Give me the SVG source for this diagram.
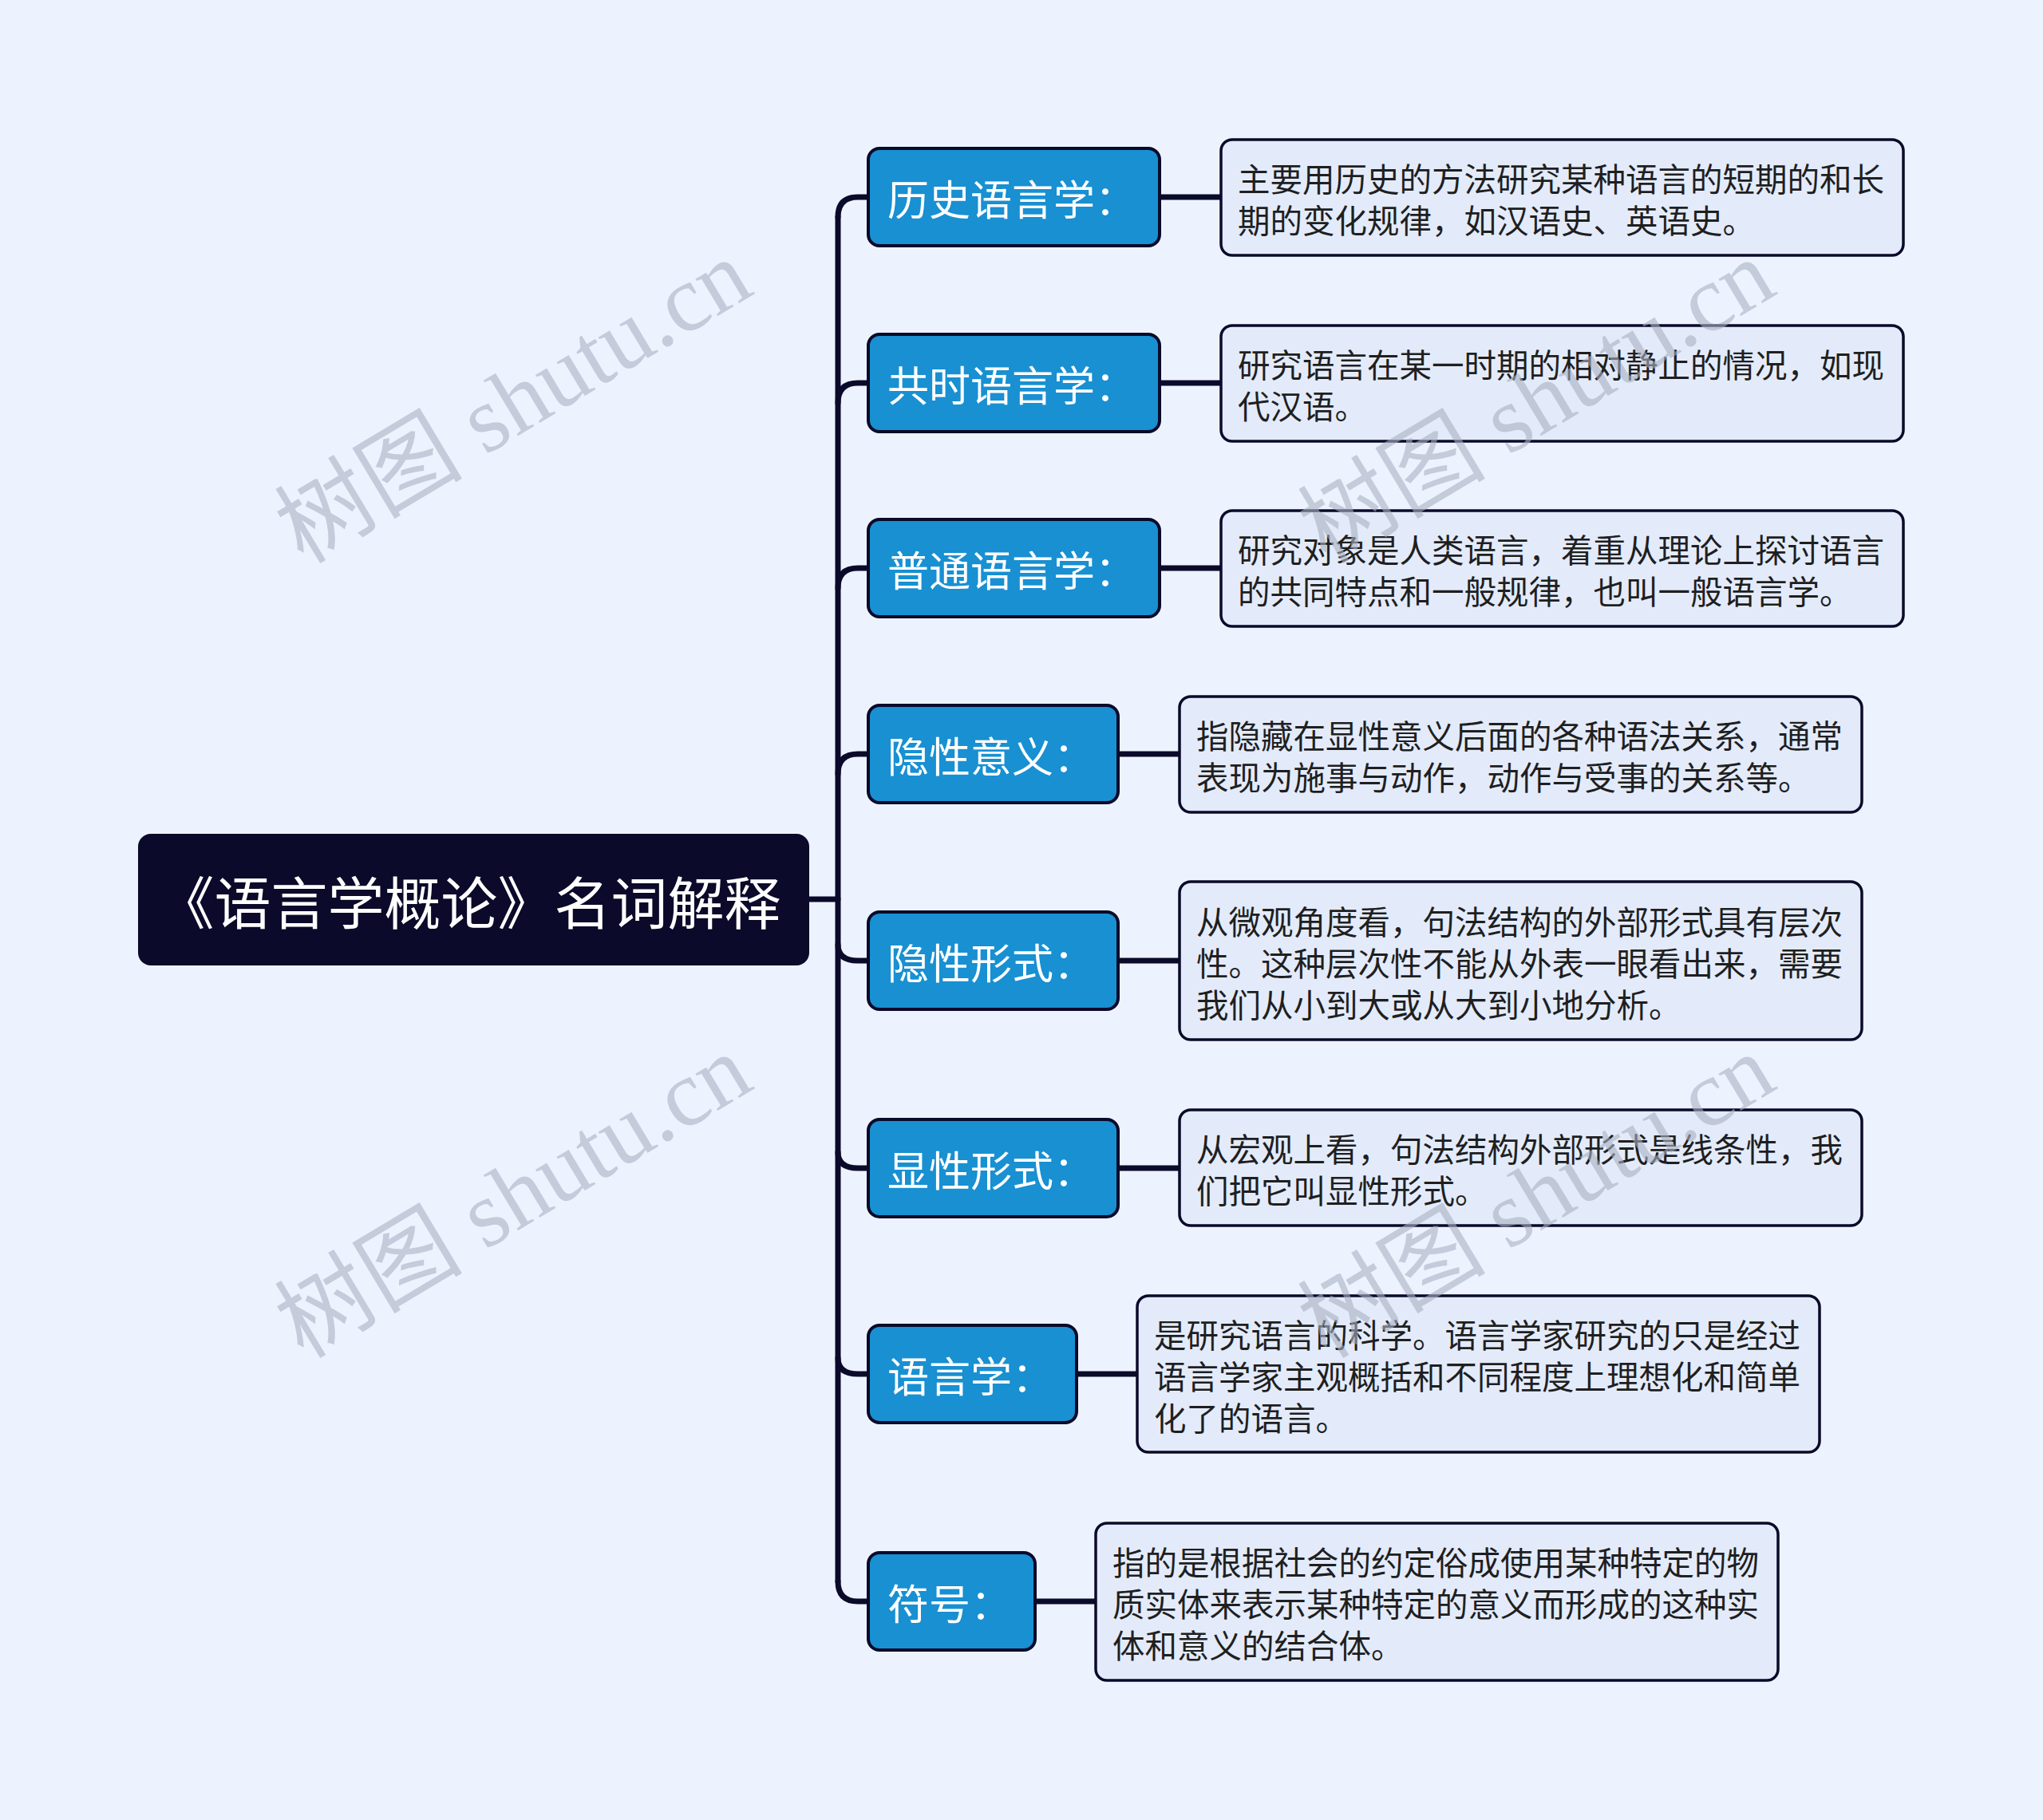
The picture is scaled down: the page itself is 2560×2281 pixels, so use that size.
<svg xmlns="http://www.w3.org/2000/svg" width="2560" height="2281" viewBox="0 0 2560 2281">
<style>
.bg{fill:#edf3fe}
.root rect{fill:#0b0a2a}
.root text{fill:#ffffff;font-family:"Noto Sans CJK SC","Noto Sans",sans-serif;font-size:71px;text-anchor:middle;dominant-baseline:central}
.br rect{fill:#1890d2;stroke:#0b0a2a;stroke-width:4}
.br text{fill:#ffffff;font-family:"Noto Sans CJK SC","Noto Sans",sans-serif;font-size:52px;dominant-baseline:central}
.lf rect{fill:#e3ebfb;stroke:#0b0a2a;stroke-width:3.5}
.lf text{fill:#1f1f1f;font-family:"Noto Sans CJK SC","Noto Sans",sans-serif;font-size:40.5px;dominant-baseline:central}
.conn path{fill:none;stroke:#0b0a2a;stroke-width:7;stroke-linecap:round}
.wm text{fill:#a9b1c2;fill-opacity:0.6;font-family:"Liberation Serif","Noto Sans CJK SC",serif;font-size:118px}
</style>
<rect class="bg" x="0" y="0" width="2560" height="2281"/>

<g id="connectors" class="conn">
<path d="M1014 1127 H1050"/>
<path d="M1050 272 V1982"/>
<path d="M1050 272 Q1050 247 1075 247 H1090"/>
<path d="M1050 505 Q1050 480 1075 480 H1090"/>
<path d="M1050 737 Q1050 712 1075 712 H1090"/>
<path d="M1050 970 Q1050 945 1075 945 H1090"/>
<path d="M1050 1184 Q1050 1204 1075 1204 H1090"/>
<path d="M1050 1444 Q1050 1464 1075 1464 H1090"/>
<path d="M1050 1702 Q1050 1722 1075 1722 H1090"/>
<path d="M1050 1982 Q1050 2007 1075 2007 H1090"/>
<path d="M1453 247 H1530"/>
<path d="M1453 480 H1530"/>
<path d="M1453 712 H1530"/>
<path d="M1401 945 H1478"/>
<path d="M1401 1204 H1478"/>
<path d="M1401 1464 H1478"/>
<path d="M1349 1722 H1425"/>
<path d="M1297 2007 H1373"/>
</g>

<g id="root" class="root">
<rect x="173" y="1045" width="841" height="165" rx="16"/>
<text x="588" y="1127">《语言学概论》名词解释</text>
</g>

<g id="b1" class="br"><rect x="1088" y="186" width="365" height="122" rx="14"/><text x="1112" y="247">历史语言学：</text></g>
<g id="b2" class="br"><rect x="1088" y="419" width="365" height="122" rx="14"/><text x="1112" y="480">共时语言学：</text></g>
<g id="b3" class="br"><rect x="1088" y="651" width="365" height="122" rx="14"/><text x="1112" y="712">普通语言学：</text></g>
<g id="b4" class="br"><rect x="1088" y="884" width="313" height="122" rx="14"/><text x="1112" y="945">隐性意义：</text></g>
<g id="b5" class="br"><rect x="1088" y="1143" width="313" height="122" rx="14"/><text x="1112" y="1204">隐性形式：</text></g>
<g id="b6" class="br"><rect x="1088" y="1403" width="313" height="122" rx="14"/><text x="1112" y="1464">显性形式：</text></g>
<g id="b7" class="br"><rect x="1088" y="1661" width="261" height="122" rx="14"/><text x="1112" y="1722">语言学：</text></g>
<g id="b8" class="br"><rect x="1088" y="1946" width="209" height="122" rx="14"/><text x="1112" y="2007">符号：</text></g>

<g id="l1" class="lf"><rect x="1530" y="175" width="855" height="145" rx="14"/>
<text x="1551" y="222">主要用历史的方法研究某种语言的短期的和长</text>
<text x="1551" y="274">期的变化规律，如汉语史、英语史。</text></g>
<g id="l2" class="lf"><rect x="1530" y="408" width="855" height="145" rx="14"/>
<text x="1551" y="455">研究语言在某一时期的相对静止的情况，如现</text>
<text x="1551" y="507">代汉语。</text></g>
<g id="l3" class="lf"><rect x="1530" y="640" width="855" height="145" rx="14"/>
<text x="1551" y="687">研究对象是人类语言，着重从理论上探讨语言</text>
<text x="1551" y="739">的共同特点和一般规律，也叫一般语言学。</text></g>
<g id="l4" class="lf"><rect x="1478" y="873" width="855" height="145" rx="14"/>
<text x="1499" y="920">指隐藏在显性意义后面的各种语法关系，通常</text>
<text x="1499" y="972">表现为施事与动作，动作与受事的关系等。</text></g>
<g id="l5" class="lf"><rect x="1478" y="1105" width="855" height="198" rx="14"/>
<text x="1499" y="1153">从微观角度看，句法结构的外部形式具有层次</text>
<text x="1499" y="1205">性。这种层次性不能从外表一眼看出来，需要</text>
<text x="1499" y="1257">我们从小到大或从大到小地分析。</text></g>
<g id="l6" class="lf"><rect x="1478" y="1391" width="855" height="145" rx="14"/>
<text x="1499" y="1438">从宏观上看，句法结构外部形式是线条性，我</text>
<text x="1499" y="1490">们把它叫显性形式。</text></g>
<g id="l7" class="lf"><rect x="1425" y="1624" width="855" height="196" rx="14"/>
<text x="1446" y="1671">是研究语言的科学。语言学家研究的只是经过</text>
<text x="1446" y="1723">语言学家主观概括和不同程度上理想化和简单</text>
<text x="1446" y="1775">化了的语言。</text></g>
<g id="l8" class="lf"><rect x="1373" y="1909" width="855" height="197" rx="14"/>
<text x="1394" y="1956">指的是根据社会的约定俗成使用某种特定的物</text>
<text x="1394" y="2008">质实体来表示某种特定的意义而形成的这种实</text>
<text x="1394" y="2060">体和意义的结合体。</text></g>

<g id="watermarks" class="wm">
<text transform="translate(380,708) rotate(-31)">树图 shutu.cn</text>
<text transform="translate(380,1704) rotate(-31)">树图 shutu.cn</text>
<text transform="translate(1662,708) rotate(-31)">树图 shutu.cn</text>
<text transform="translate(1662,1704) rotate(-31)">树图 shutu.cn</text>
</g>
</svg>
